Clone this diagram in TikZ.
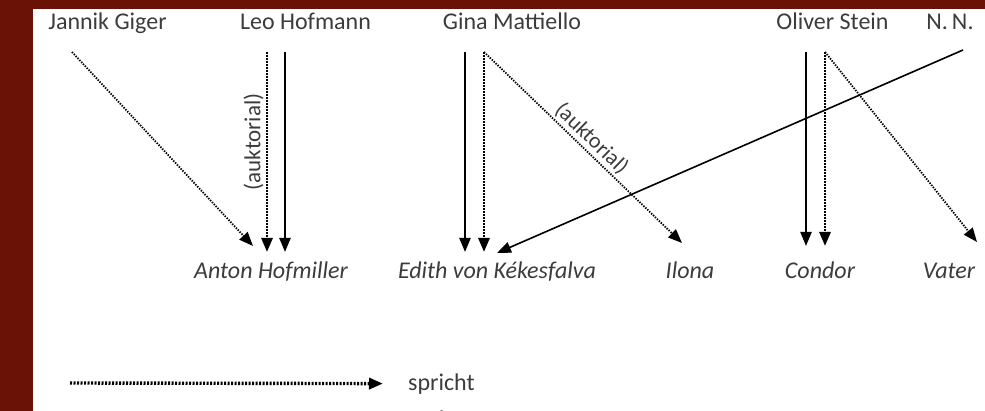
\documentclass[tikz,border=0pt]{standalone}
\usepackage{fontspec}
\setmainfont{Carlito}
\usepackage{tikz}
\usetikzlibrary{arrows.meta}

\definecolor{rahmen}{HTML}{6B1206}
\definecolor{schrift}{HTML}{3C3C3C}

\begin{document}
\begin{tikzpicture}[x=1pt, y=-1pt,
  person/.style={anchor=base, inner sep=0pt, text=schrift, font=\fontsize{24}{28}\selectfont},
  figur/.style={person, font=\fontsize{24}{28}\selectfont\itshape},
  legende/.style={person, anchor=base west},
  hinweis/.style={text=schrift, inner sep=2pt, font=\fontsize{#1}{26}\selectfont},
  hinweis/.default=23,
  spricht/.style={line width=2.8pt, dash pattern=on 1.6pt off 1.4pt, -{Triangle[length=14pt,width=11pt]}},
  sprichtschraeg/.style={line width=1.8pt, dash pattern=on 1.4pt off 1.3pt, -{Triangle[length=14pt,width=11pt]}},
  verkoerpert/.style={line width=2.2pt, -{Triangle[length=14pt,width=11pt]}}]

\useasboundingbox (0,0) rectangle (985,411);
\clip (0,0) rectangle (985,411);
\fill[rahmen] (0,0) rectangle (985,411);
\fill[white] (33,9) rectangle (985,411);

\node[person] (jannik) at (107.5,30) {Jannik Giger};
\node[person] (leo) at (305.5,30) {Leo Hofmann};
\node[person] (gina) at (512,30) {Gina Mattiello};
\node[person] (oliver) at (832.5,30) {Oliver Stein};
\node[person] (nn) at (950,30) {N.\,N.};

\node[figur] (anton) at (271,279) {Anton Hofmiller};
\node[figur] (edith) at (497,279) {Edith von Kékesfalva};
\node[figur] (ilona) at (690,279) {Ilona};
\node[figur] (condor) at (820,279) {Condor};
\node[figur] (vater) at (949,279) {Vater};

\draw[sprichtschraeg] ([xshift=-35.5pt,yshift=-22pt]jannik.base) -- ([xshift=-18pt,yshift=33pt]anton.base);
\draw[spricht] ([xshift=-38.5pt,yshift=-22pt]leo.base) -- node[pos=0.45, anchor=south, rotate=90, hinweis] {(auktorial)} ([xshift=-4pt,yshift=27pt]anton.base);
\draw[verkoerpert] ([xshift=-20.5pt,yshift=-22pt]leo.base) -- ([xshift=14pt,yshift=27pt]anton.base);

\draw[verkoerpert] ([xshift=-47pt,yshift=-22pt]gina.base) -- ([xshift=-32pt,yshift=27pt]edith.base);
\draw[spricht] ([xshift=-28pt,yshift=-22pt]gina.base) -- ([xshift=-13pt,yshift=27pt]edith.base);
\draw[sprichtschraeg] ([xshift=-28pt,yshift=-22pt]gina.base) -- node[midway, above, sloped, hinweis=22] {(auktorial)} ([xshift=-8pt,yshift=36pt]ilona.base);
\draw[line width=1.6pt, -{Triangle[length=14pt,width=11pt]}] ([xshift=13pt,yshift=-20pt]nn.base) -- ([yshift=26pt]edith.base);

\draw[verkoerpert] ([xshift=-26.5pt,yshift=-22pt]oliver.base) -- ([xshift=-14pt,yshift=33pt]condor.base);
\draw[spricht] ([xshift=-7.5pt,yshift=-22pt]oliver.base) -- ([xshift=5pt,yshift=33pt]condor.base);
\draw[sprichtschraeg] ([xshift=-7.5pt,yshift=-22pt]oliver.base) -- ([xshift=28pt,yshift=37pt]vater.base);

\node[legende] (lspricht) at (408,390) {spricht};
\node[legende] (lverk) at (408,427) {verkörpert};
\coordinate (leg1) at (70,383);
\coordinate (leg2) at (70,420);
\draw[spricht, line width=3.4pt, dash pattern=on 2pt off 1.5pt] (leg1) -- ([xshift=-25pt]lspricht.west);
\draw[verkoerpert] (leg2) -- ([xshift=-25pt]lverk.west);
\end{tikzpicture}
\end{document}
